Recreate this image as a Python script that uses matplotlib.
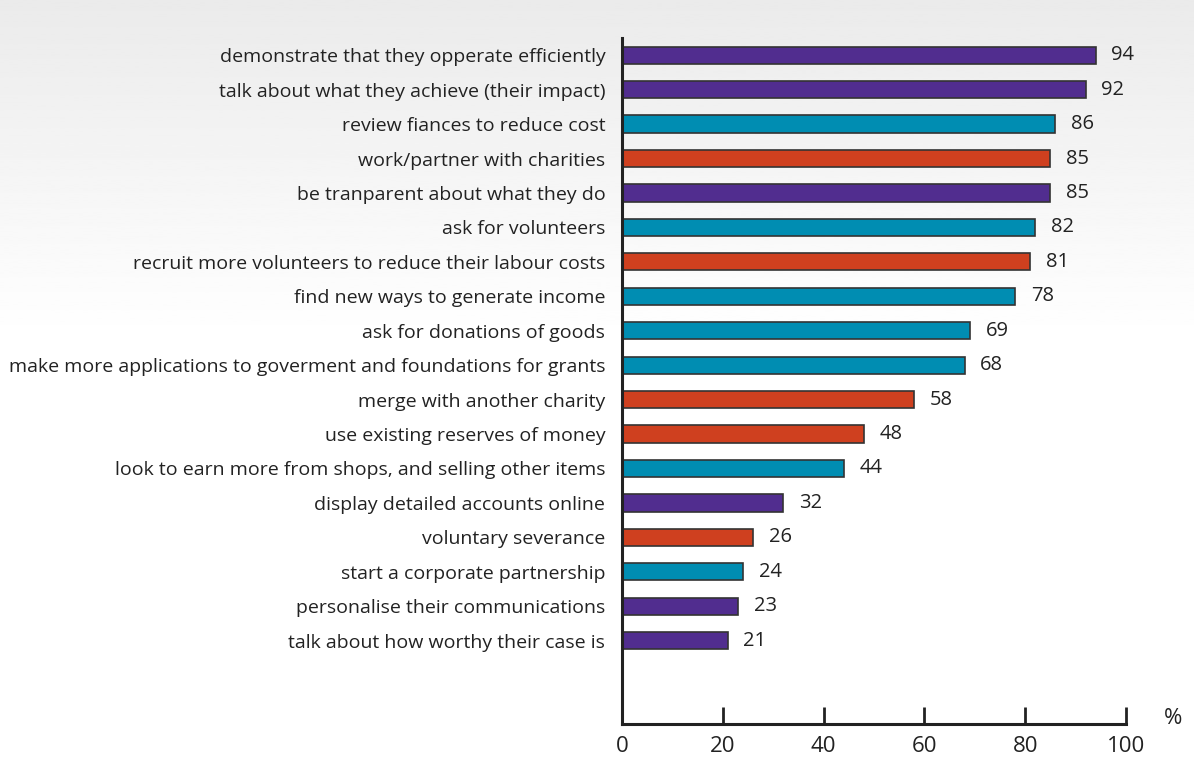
import numpy as np
import matplotlib
matplotlib.use("Agg")
import matplotlib.pyplot as plt

plt.rcParams['font.family'] = ['Open Sans', 'DejaVu Sans']

labels = [
    "demonstrate that they opperate efficiently",
    "talk about what they achieve (their impact)",
    "review fiances to reduce cost",
    "work/partner with charities",
    "be tranparent about what they do",
    "ask for volunteers",
    "recruit more volunteers to reduce their labour costs",
    "find new ways to generate income",
    "ask for donations of goods",
    "make more applications to goverment and foundations for grants",
    "merge with another charity",
    "use existing reserves of money",
    "look to earn more from shops, and selling other items",
    "display detailed accounts online",
    "voluntary severance",
    "start a corporate partnership",
    "personalise their communications",
    "talk about how worthy their case is",
]
values = [94, 92, 86, 85, 85, 82, 81, 78, 69, 68, 58, 48, 44, 32, 26, 24, 23, 21]
groups = ["p", "p", "t", "o", "p", "t", "o", "t", "t", "t", "o", "o", "t", "p", "o", "t", "p", "p"]
palette = {"p": "#512d8f", "t": "#008db2", "o": "#cf401f"}

fig = plt.figure(figsize=(11.94, 7.58), dpi=100)

# background gradient: light grey at top fading to white
bg = fig.add_axes([0, 0, 1, 1], zorder=-10)
grad = np.linspace(0, 1, 300)
grad = np.clip(grad / 0.45, 0, 1)
img = 0.92 + 0.08 * grad
bg.imshow(img[:, None], aspect="auto", cmap="gray", vmin=0, vmax=1,
          extent=[0, 1, 0, 1], origin="upper")
bg.axis("off")

ax = fig.add_axes([622 / 1194, 1 - 724 / 758, 504 / 1194, (724 - 38) / 758])
ax.patch.set_alpha(0)

y = np.arange(len(values))
ax.barh(y, values, height=0.5, color=[palette[g] for g in groups],
        edgecolor="#333333", linewidth=1.2)
for yi, v in zip(y, values):
    ax.text(v + 3.1, yi, str(v), va="center", ha="left", fontsize=14.5, color="#222222")

ax.set_yticks(y)
ax.set_yticklabels(labels, fontsize=14, color="#222222")
ax.tick_params(axis="y", length=0, pad=12)
ax.set_ylim(19.42, -0.5)
ax.set_xlim(0, 100)
ax.set_xticks([0, 20, 40, 60, 80, 100])
ax.tick_params(axis="x", direction="in", length=12, width=2, color="#222222",
               labelsize=16, labelcolor="#222222", pad=9)
ax.xaxis.get_major_ticks()[0].tick1line.set_visible(False)

for s in ["top", "right"]:
    ax.spines[s].set_visible(False)
for s in ["left", "bottom"]:
    ax.spines[s].set_linewidth(2.2)
    ax.spines[s].set_color("#222222")

fig.text(1173 / 1194, 1 - 719 / 758, "%", fontsize=16,
         color="#222222", ha="center", va="center")

fig.savefig("out.png", dpi=100)
